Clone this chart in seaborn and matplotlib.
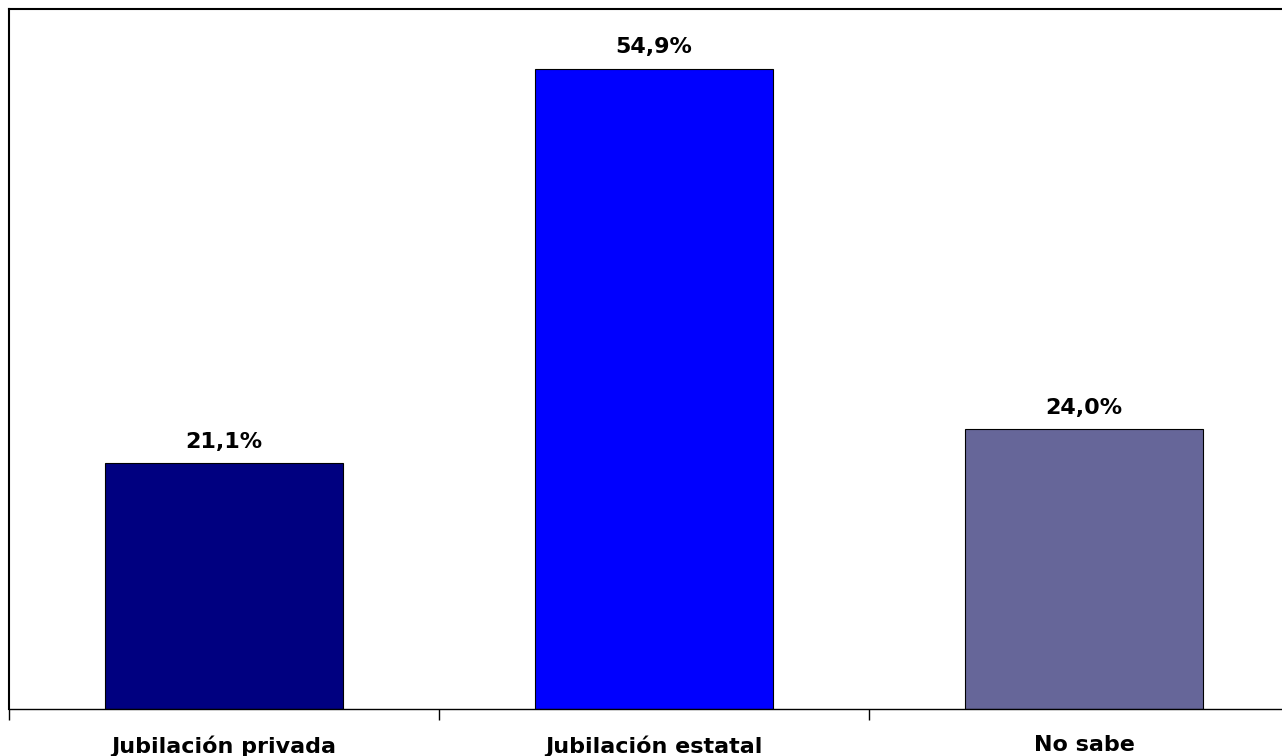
import matplotlib
matplotlib.use("Agg")
import matplotlib.pyplot as plt
import seaborn as sns
import pandas as pd
from matplotlib.ticker import FixedLocator

categories = ["Jubilación privada", "Jubilación estatal", "No sabe"]
values = [21.1, 54.9, 24.0]
labels = ["21,1%", "54,9%", "24,0%"]
colors = ["#000080", "#0000FF", "#666699"]

sns.set_theme(style="white")
plt.rcParams["font.family"] = ["DejaVu Sans"]

df = pd.DataFrame({"cat": categories, "val": values})

fig = plt.figure(figsize=(12.82, 7.56), dpi=100)
W, H = 1282, 756
left, right, top, bottom = 9, 1299, 9, 709
ax = fig.add_axes([left / W, 1 - bottom / H, (right - left) / W, (bottom - top) / H])

sns.barplot(data=df, x="cat", y="val", hue="cat", palette=colors, legend=False,
            width=0.553, edgecolor="black", linewidth=0.8, ax=ax, saturation=1)

ax.set_ylim(0, 60)
ax.set_xlim(-0.5, 2.5)
ax.set_xlabel("")
ax.set_ylabel("")
ax.set_yticks([])

for i, (v, lab) in enumerate(zip(values, labels)):
    ax.annotate(lab, (i, v), xytext=(0, 8), textcoords="offset points",
                ha="center", va="bottom", fontsize=16, fontweight="bold", color="black")

ax.xaxis.set_major_locator(FixedLocator([0, 1, 2]))
ax.set_xticklabels(categories, fontsize=16, fontweight="bold", color="black")
ax.tick_params(axis="x", which="major", length=0, pad=19, labelcolor="black")
ax.xaxis.set_minor_locator(FixedLocator([-0.5, 0.5, 1.5, 2.5]))
ax.tick_params(axis="x", which="minor", length=8, width=1, color="black", direction="out", bottom=True)

for s in ["top", "left"]:
    ax.spines[s].set_visible(True)
    ax.spines[s].set_color("black")
    ax.spines[s].set_linewidth(1.5)
ax.spines["bottom"].set_color("black")
ax.spines["bottom"].set_linewidth(1)
ax.spines["right"].set_visible(False)

fig.savefig("out.png", dpi=100, facecolor="white")
